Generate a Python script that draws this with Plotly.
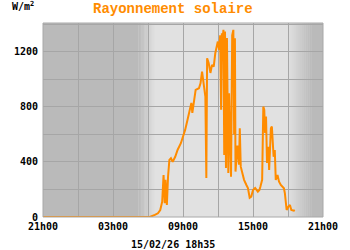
import plotly.graph_objects as go
import datetime as dt

# ---- data ----
times = [
    "2026-02-14 21:00", "2026-02-15 05:50", "2026-02-15 06:01", "2026-02-15 06:09",
    "2026-02-15 06:35", "2026-02-15 06:51", "2026-02-15 07:03", "2026-02-15 07:13",
    "2026-02-15 07:20", "2026-02-15 07:26", "2026-02-15 07:30", "2026-02-15 07:37",
    "2026-02-15 07:43", "2026-02-15 07:50", "2026-02-15 07:58", "2026-02-15 08:07",
    "2026-02-15 08:20", "2026-02-15 08:32", "2026-02-15 08:49", "2026-02-15 09:01",
    "2026-02-15 09:11", "2026-02-15 09:23", "2026-02-15 09:36", "2026-02-15 09:43",
    "2026-02-15 09:48", "2026-02-15 09:56", "2026-02-15 10:05", "2026-02-15 10:22",
    "2026-02-15 10:30", "2026-02-15 10:38", "2026-02-15 10:47", "2026-02-15 10:55",
    "2026-02-15 11:00", "2026-02-15 11:04", "2026-02-15 11:12", "2026-02-15 11:21",
    "2026-02-15 11:29", "2026-02-15 11:38", "2026-02-15 11:46", "2026-02-15 11:54",
    "2026-02-15 11:59", "2026-02-15 12:06", "2026-02-15 12:11", "2026-02-15 12:16",
    "2026-02-15 12:20", "2026-02-15 12:23", "2026-02-15 12:28", "2026-02-15 12:32",
    "2026-02-15 12:36", "2026-02-15 12:41", "2026-02-15 12:46", "2026-02-15 12:53",
    "2026-02-15 12:57", "2026-02-15 13:02", "2026-02-15 13:07", "2026-02-15 13:13",
    "2026-02-15 13:19", "2026-02-15 13:23", "2026-02-15 13:27", "2026-02-15 13:30",
    "2026-02-15 13:35", "2026-02-15 13:40", "2026-02-15 13:48", "2026-02-15 13:52",
    "2026-02-15 13:57", "2026-02-15 14:04", "2026-02-15 14:14", "2026-02-15 14:26",
    "2026-02-15 14:34", "2026-02-15 14:43", "2026-02-15 14:51", "2026-02-15 15:00",
    "2026-02-15 15:11", "2026-02-15 15:25", "2026-02-15 15:33", "2026-02-15 15:38",
    "2026-02-15 15:47", "2026-02-15 15:53", "2026-02-15 15:58", "2026-02-15 16:02",
    "2026-02-15 16:07", "2026-02-15 16:12", "2026-02-15 16:19", "2026-02-15 16:23",
    "2026-02-15 16:32", "2026-02-15 16:37", "2026-02-15 16:41", "2026-02-15 16:46",
    "2026-02-15 16:52", "2026-02-15 16:57", "2026-02-15 17:06", "2026-02-15 17:14",
    "2026-02-15 17:23", "2026-02-15 17:31", "2026-02-15 17:39", "2026-02-15 17:44",
    "2026-02-15 17:53", "2026-02-15 18:02", "2026-02-15 18:10", "2026-02-15 18:17",
    "2026-02-15 18:30", "2026-02-15 18:35",
]
radiation = [
    0, 0, 0, 0,
    15, 27, 51, 111,
    305, 100, 270, 87,
    293, 415, 427, 402,
    438, 487, 536, 584,
    633, 705, 778, 829,
    756, 850, 924, 936,
    972, 1057, 975, 875,
    284, 1154, 1120, 1047,
    1105, 1093, 1190, 1230,
    1275, 1215, 1320, 780,
    1335, 1287, 1360, 450,
    1348, 356, 1300, 320,
    900, 415, 293, 1320,
    1360, 600, 1300, 330,
    415, 520, 380, 645,
    366, 330, 270, 233,
    211, 140, 148, 196,
    211, 184, 196, 220,
    270, 802, 778, 611,
    730, 393, 511, 342,
    645, 657, 536, 438,
    487, 270, 305, 257,
    233, 220, 209, 172,
    51, 75, 87, 51,
    46, 50,
]

x_tickvals = ["2026-02-14 21:00", "2026-02-15 03:00", "2026-02-15 09:00",
              "2026-02-15 15:00", "2026-02-15 21:00"]
x_ticktext = ["21h00", "03h00", "09h00", "15h00", "21h00"]
y_tickvals = [0, 400, 800, 1200]
y_ticktext = ["0", "400", "800", "1200"]

title_text = "Rayonnement solaire"
unit_text = "W/m<sup>2</sup>"
stamp_text = "15/02/26 18h35"

# ---- night shading (gradient made of thin rectangles) ----
DARK = (186, 186, 186)
LIGHT = (225, 225, 225)
base = dt.datetime(2026, 2, 14, 21, 0)


def col(f):
    r = [round(DARK[i] + (LIGHT[i] - DARK[i]) * f) for i in range(3)]
    return f"rgb({r[0]},{r[1]},{r[2]})"


def ts(h):
    return (base + dt.timedelta(hours=h)).strftime("%Y-%m-%d %H:%M:%S")


shapes = []
shapes.append(dict(type="rect", xref="x", yref="paper", x0=ts(0), x1=ts(8.2), y0=0, y1=1,
                   fillcolor=col(0), line_width=0, layer="below"))
n = 12
a0, a1 = 8.2, 9.6
for i in range(n):
    h0 = a0 + (a1 - a0) * i / n
    h1 = a0 + (a1 - a0) * (i + 1) / n
    shapes.append(dict(type="rect", xref="x", yref="paper", x0=ts(h0), x1=ts(h1 + 0.02), y0=0, y1=1,
                       fillcolor=col((i + 0.5) / n), line_width=0, layer="below"))
b0, b1 = 21.0, 23.0
for i in range(n):
    h0 = b0 + (b1 - b0) * i / n
    h1 = b0 + (b1 - b0) * (i + 1) / n
    shapes.append(dict(type="rect", xref="x", yref="paper", x0=ts(h0), x1=ts(h1 + 0.02), y0=0, y1=1,
                       fillcolor=col(1 - (i + 0.5) / n), line_width=0, layer="below"))
shapes.append(dict(type="rect", xref="x", yref="paper", x0=ts(23.0), x1=ts(24), y0=0, y1=1,
                   fillcolor=col(0), line_width=0, layer="below"))
shapes.append(dict(type="rect", xref="paper", yref="paper", x0=0, x1=1, y0=0, y1=1,
                   line=dict(color="#a8a8a8", width=1), fillcolor="rgba(0,0,0,0)", layer="above"))

ORANGE = "#ff8c00"
GRID = "#a6a6a6"
fig = go.Figure(go.Scatter(x=times, y=radiation, mode="lines",
                           line=dict(color=ORANGE, width=2), hoverinfo="skip"))

tick_font = dict(family="DejaVu Sans Mono", size=10, color="#000000", weight="bold")

W, H = 350, 250
L, R, T, B = 43, 22, 23, 33
pw, ph = W - L - R, H - T - B

fig.update_layout(
    width=W, height=H,
    margin=dict(l=L, r=R, t=T, b=B),
    paper_bgcolor="#ffffff", plot_bgcolor="rgb(225,225,225)",
    showlegend=False,
    shapes=shapes,
    xaxis=dict(type="date", range=[ts(0), ts(24)], tickmode="array",
               tickvals=x_tickvals, ticktext=x_ticktext, showgrid=True,
               gridcolor=GRID, gridwidth=1, zeroline=False, showline=False,
               ticks="", tickfont=tick_font, ticklabelstandoff=2,
               minor=dict(tick0=ts(0), dtick=3 * 3600 * 1000, showgrid=True,
                          gridcolor=GRID, gridwidth=1, ticks="")),
    yaxis=dict(range=[0, 1410], tickmode="array", tickvals=y_tickvals, ticktext=y_ticktext,
               showgrid=True, gridcolor=GRID, gridwidth=1, zeroline=False,
               showline=False, ticks="", tickfont=tick_font, ticklabelstandoff=4,
               minor=dict(tick0=0, dtick=200, showgrid=True, gridcolor=GRID,
                          gridwidth=1, ticks="")),
)


def px(xp):
    return (xp - L) / pw


def py(yp):
    return (H - B - yp) / ph


fig.add_annotation(text=title_text, xref="paper", yref="paper", x=px(175), y=py(9),
                   xanchor="center", yanchor="middle", showarrow=False,
                   font=dict(family="Liberation Mono", size=14, color=ORANGE, weight="bold"))
fig.add_annotation(text=unit_text, xref="paper", yref="paper", x=px(9), y=py(6),
                   xanchor="left", yanchor="middle", showarrow=False,
                   font=dict(family="DejaVu Sans Mono", size=10, color="#000000", weight="bold"))
fig.add_annotation(text=stamp_text, xref="paper", yref="paper", x=px(175), y=py(244),
                   xanchor="center", yanchor="middle", showarrow=False,
                   font=dict(family="DejaVu Sans Mono", size=10, color="#000000", weight="bold"))

fig.write_html("out.html")
